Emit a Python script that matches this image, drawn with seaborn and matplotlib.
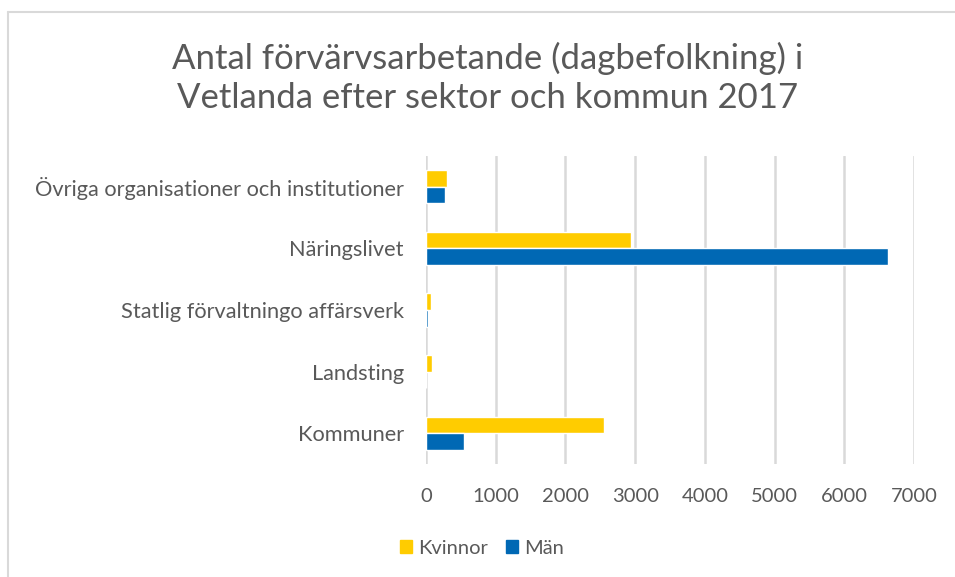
import pandas as pd
import matplotlib.pyplot as plt
import seaborn as sns
from matplotlib.lines import Line2D
from matplotlib.patches import Patch

sektorer = ['Övriga organisationer och institutioner', 'Näringslivet',
            'Statlig förvaltningo affärsverk', 'Landsting', 'Kommuner']
kvinnor = [297, 2940, 67, 81, 2553]
man = [268, 6623, 24, 0, 541]
serier = ['Kvinnor', 'Män']
farger = ['#FFCC00', '#0068B4']

df = pd.DataFrame({
    'Sektor': sektorer * 2,
    'Antal': kvinnor + man,
    'Kön': [serier[0]] * len(sektorer) + [serier[1]] * len(sektorer),
})

sns.set_theme(style='white')
plt.rcParams['font.family'] = ['Lato', 'DejaVu Sans']
textfarg = '#595959'
gridfarg = '#D9D9D9'

fig = plt.figure(figsize=(9.55, 5.77), dpi=100)
ax = fig.add_axes([426 / 955, 1 - 464 / 577, 488 / 955, 308 / 577])

sns.barplot(data=df, x='Antal', y='Sektor', hue='Kön', hue_order=serier,
            palette=farger, orient='h', width=0.54, gap=0, saturation=1,
            order=sektorer, ax=ax, legend=False, errorbar=None)

ax.set_xlim(0, 7000)
ax.set_ylim(4.5, -0.5)
ax.set_xticks(range(0, 7001, 1000))
ax.set_xlabel('')
ax.set_ylabel('')
for s in ax.spines.values():
    s.set_visible(False)
ax.grid(axis='x', color=gridfarg, linewidth=1.8, zorder=0)
ax.set_axisbelow(True)
ax.tick_params(axis='both', length=0, colors=textfarg)
ax.tick_params(axis='x', pad=17, labelsize=14.5)
ax.tick_params(axis='y', pad=16, labelsize=15.7)

fig.text(488 / 955, 1 - 78 / 577, 'Antal förvärvsarbetande (dagbefolkning) i\nVetlanda efter sektor och kommun 2017',
         ha='center', va='center', fontsize=25, color=textfarg, linespacing=1.3)

handles = [Patch(color=c) for c in farger]
fig.legend(handles, serier, loc='center', bbox_to_anchor=(482 / 955, 1 - 548 / 577),
           ncol=2, frameon=False, fontsize=14.5, labelcolor=textfarg,
           handlelength=0.6, handleheight=0.6, handletextpad=0.3, columnspacing=0.9)

fig.add_artist(Line2D([8 / 955, 1], [1 - 12 / 577, 1 - 12 / 577], color=gridfarg, linewidth=1.5))
fig.add_artist(Line2D([8 / 955, 8 / 955], [0, 1 - 12 / 577], color=gridfarg, linewidth=1.5))

fig.savefig('out.png', dpi=100)
